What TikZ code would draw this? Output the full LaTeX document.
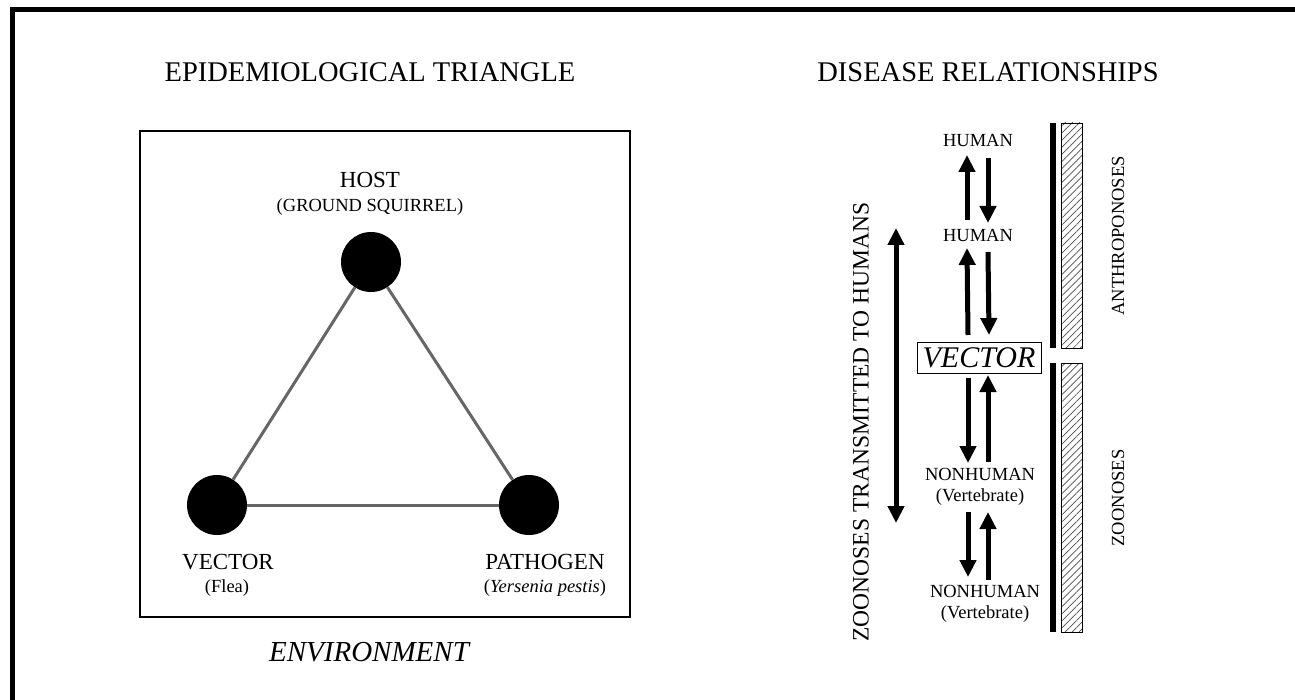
\documentclass[tikz,border=0pt]{standalone}
\usepackage{fontspec}
\setmainfont{Liberation Serif}
\usetikzlibrary{arrows.meta,patterns.meta,calc}
\newcommand{\fsz}[1]{\fontsize{#1}{#1}\selectfont}
\begin{document}
\begin{tikzpicture}[x=1pt,y=-1pt,
  title/.style={font=\fsz{28.5}, inner sep=0pt},
  lab/.style={font=\fsz{23}, inner sep=0pt},
  sub/.style={font=\fsz{18.5}, inner sep=0pt},
  dot/.style={circle, fill=black, minimum size=60pt, inner sep=0pt},
  tri/.style={draw=black!60, line width=3pt},
  arr/.style={line width=5pt, -{Triangle[width=16pt,length=17pt]}},
  darr/.style={line width=5pt, {Triangle[width=16pt,length=17pt]}-{Triangle[width=16pt,length=17pt]}},
  hatchbox/.style={draw=black, line width=0.8pt, pattern={Lines[angle=45,distance=5pt,line width=0.7pt]}, pattern color=black!70},
  rot/.style={font=\fsz{18.5}, inner sep=0pt, rotate=90}
]
\useasboundingbox (0,0) rectangle (1295,700);
% frame
\draw[line width=5pt, line join=miter] (1295,9.5) -- (12.5,9.5) -- (12.5,700);

% ===== Left panel
\node[title] (t1) at (370,72) {EPIDEMIOLOGICAL TRIANGLE};
\draw[line width=2.5pt] (140,131) rectangle (630,617);
\node[dot] (host) at (371,262) {};
\node[dot] (vect) at (217,505) {};
\node[dot] (path) at (529,505) {};
\draw[tri] (host) -- (vect);
\draw[tri] (host) -- (path);
\draw[tri] (vect) -- (path);
\node[lab] (hostl) at (370,180) {HOST};
\node[sub] (hosts) at (370,207) {(GROUND SQUIRREL)};
\node[lab] (vecl) at (228,562) {VECTOR};
\node[sub] (vecs) at (227,588) {(Flea)};
\node[lab] (pathl) at (545,562) {PATHOGEN};
\node[sub] (paths) at (545,588) {(\textit{Yersenia pestis})};
\node[font=\fsz{29}\itshape, inner sep=0pt] (env) at (369,652) {ENVIRONMENT};

% ===== Right panel
\node[title] (t2) at (988,72) {DISEASE RELATIONSHIPS};
\node[sub] (h1) at (978,140) {HUMAN};
\node[sub] (h2) at (978,235) {HUMAN};
\node[draw, line width=1pt, font=\fsz{30}\itshape, inner sep=0pt, minimum width=124pt, minimum height=30pt] (vec) at (979,358) {VECTOR};
\node[sub, align=center] (nh1) at (980,487) {NONHUMAN\\[3pt](Vertebrate)};
\node[sub, align=center] (nh2) at (985,604) {NONHUMAN\\[3pt](Vertebrate)};

\draw[arr] ([xshift=-11pt,yshift=15pt]h2.center) -- ([xshift=-11pt,yshift=-15pt]h1.center);
\draw[arr] ([xshift=10pt,yshift=-18pt]h1.center) -- ([xshift=10pt,yshift=12pt]h2.center);
\draw[arr] ([xshift=-11pt,yshift=23pt]vec.center) -- ([xshift=-11pt,yshift=-13pt]h2.center);
\draw[arr] ([xshift=10pt,yshift=-17pt]h2.center) -- ([xshift=10pt,yshift=23pt]vec.center);
\draw[arr] ([xshift=-11pt,yshift=-20pt]vec.center) -- ([xshift=-12pt,yshift=24pt]nh1.center);
\draw[arr] ([xshift=8pt,yshift=25pt]nh1.center) -- ([xshift=9pt,yshift=-17pt]vec.center);
\draw[arr] ([xshift=-12pt,yshift=-25pt]nh1.center) -- ([xshift=-17pt,yshift=27pt]nh2.center);
\draw[arr] ([xshift=3pt,yshift=24pt]nh2.center) -- ([xshift=8pt,yshift=-25pt]nh1.center);

\coordinate (lt) at (896,228);
\coordinate (lb) at (896,523);
\draw[darr] (lt) -- (lb);
\node[rot, font=\fsz{23.5}] (ztl) at (861,422) {ZOONOSES TRANSMITTED TO HUMANS};

\fill[black] (1050,123) rectangle (1056,348);
\draw[hatchbox] (1061,123) rectangle (1082,348);
\fill[black] (1050,363) rectangle (1056,632);
\draw[hatchbox] (1061,363) rectangle (1082,632);
\node[rot] (anth) at (1118,236) {ANTHROPONOSES};
\node[rot] (zoo) at (1118,498) {ZOONOSES};
\end{tikzpicture}
\end{document}
